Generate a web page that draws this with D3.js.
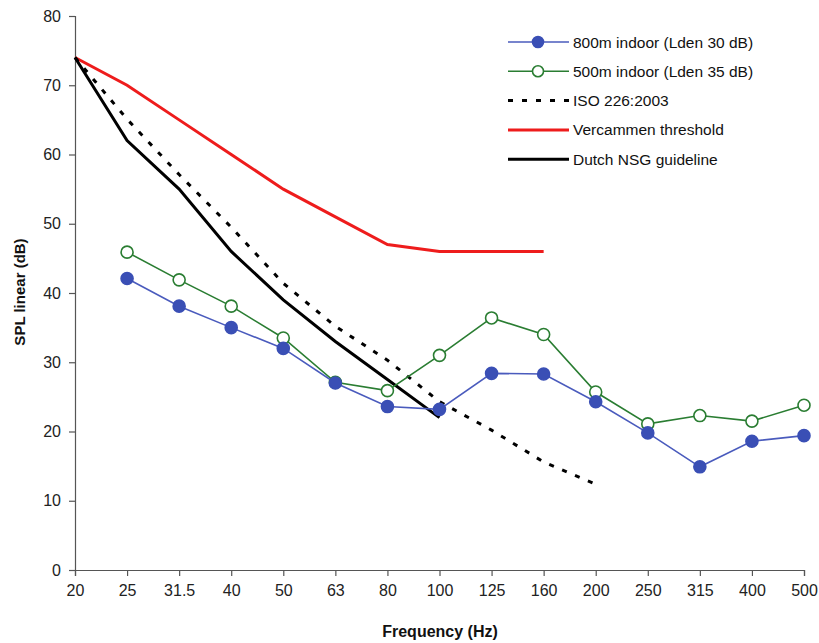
<!DOCTYPE html>
<html>
<head>
<meta charset="utf-8">
<script src="https://cdn.jsdelivr.net/npm/d3@7"></script>
<style>
  body { margin: 0; background: #fff; }
  text { font-family: Arial, "Liberation Sans", sans-serif; }
</style>
</head>
<body>
<div id="chart"></div>
<script>
// DATA
var freqs = ["20", "25", "31.5", "40", "50", "63", "80", "100", "125", "160", "200", "250", "315", "400", "500"];
var yTicks = [0, 10, 20, 30, 40, 50, 60, 70, 80];

var indoor800 = [null, 42.1, 38.1, 35.0, 32.0, 27.0, 23.6, 23.2, 28.4, 28.3, 24.3, 19.8, 14.9, 18.6, 19.4];
var indoor500 = [null, 45.9, 41.9, 38.1, 33.5, 27.1, 25.9, 31.0, 36.4, 34.0, 25.7, 21.1, 22.3, 21.5, 23.8];
var iso226 = [74, 65.1, 57.1, 49.5, 41.4, 35.2, 30.3, 24.3, 20.2, 15.6, 12.4];
var vercammen = [74, 70, 65, 60, 55, 51, 47, 46, 46, 46];
var dutchNSG = [74, 62, 55, 46, 39, 33, 27.5, 22];

var legendNames = ["800m indoor (Lden 30 dB)", "500m indoor (Lden 35 dB)", "ISO 226:2003", "Vercammen threshold", "Dutch NSG guideline"];

var width = 819, height = 643;
var margin = {top: 16, right: 15, bottom: 73, left: 75};

var svg = d3.select('#chart').append('svg')
    .attr('width', width)
    .attr('height', height);

var x = d3.scalePoint()
    .domain(freqs)
    .range([margin.left, width - margin.right]);

var y = d3.scaleLinear()
    .domain([0, 80])
    .range([height - margin.bottom, margin.top]);

// axes
var xAxis = svg.append('g')
    .attr('transform', 'translate(0,' + (height - margin.bottom) + ')')
    .call(d3.axisBottom(x).tickSize(6).tickPadding(9));
var yAxis = svg.append('g')
    .attr('transform', 'translate(' + margin.left + ',0)')
    .call(d3.axisLeft(y).tickValues(yTicks).tickSize(6).tickPadding(8));

[xAxis, yAxis].forEach(function(a) {
  a.select('.domain').attr('stroke', '#555').attr('stroke-width', 1.2);
  a.selectAll('.tick line').attr('stroke', '#555').attr('stroke-width', 1.2);
  a.selectAll('.tick text')
    .attr('font-size', 16)
    .attr('fill', '#222')
    .style('font-family', 'Arial, "Liberation Sans", sans-serif');
});

// axis titles
svg.append('text')
    .attr('x', 440)
    .attr('y', 637)
    .attr('text-anchor', 'middle')
    .attr('font-size', 16)
    .attr('font-weight', 'bold')
    .attr('fill', '#111')
    .text('Frequency (Hz)');

svg.append('text')
    .attr('transform', 'translate(25,292) rotate(-90)')
    .attr('text-anchor', 'middle')
    .attr('font-size', 15)
    .attr('font-weight', 'bold')
    .attr('fill', '#111')
    .text('SPL linear (dB)');

function toPoints(vals) {
  var pts = [];
  vals.forEach(function(v, i) {
    if (v != null) pts.push({f: freqs[i], v: v});
  });
  return pts;
}

var line = d3.line()
    .x(function(d) { return x(d.f); })
    .y(function(d) { return y(d.v); });

var series = [
  {data: toPoints(vercammen), color: '#ee1c1c', width: 3},
  {data: toPoints(dutchNSG), color: '#000', width: 3},
  {data: toPoints(iso226), color: '#000', width: 3, dash: '5,9'},
  {data: toPoints(indoor500), color: '#2a7d32', width: 1.6, marker: 'open'},
  {data: toPoints(indoor800), color: '#4a5bbd', width: 1.6, marker: 'filled'}
];

series.forEach(function(s) {
  svg.append('path')
      .datum(s.data)
      .attr('fill', 'none')
      .attr('stroke', s.color)
      .attr('stroke-width', s.width)
      .attr('stroke-dasharray', s.dash || null)
      .attr('d', line);

  if (s.marker) {
    svg.append('g').selectAll('circle')
      .data(s.data)
      .enter().append('circle')
        .attr('cx', function(d) { return x(d.f); })
        .attr('cy', function(d) { return y(d.v); })
        .attr('r', 6)
        .attr('fill', s.marker == 'filled' ? '#3a4fb5' : '#fff')
        .attr('stroke', s.marker == 'filled' ? '#3a4fb5' : s.color)
        .attr('stroke-width', 1.6);
  }
});

// LEGEND
var legendStyles = [
  {color: '#4a5bbd', width: 1.6, marker: 'filled'},
  {color: '#2a7d32', width: 1.6, marker: 'open'},
  {color: '#000', width: 3, dash: '5,9'},
  {color: '#ee1c1c', width: 3},
  {color: '#000', width: 3}
];

var legend = svg.append('g');
legendNames.forEach(function(name, i) {
  var st = legendStyles[i];
  var ly = 42 + i * 29.3;
  legend.append('line')
      .attr('x1', 508).attr('x2', 569)
      .attr('y1', ly).attr('y2', ly)
      .attr('stroke', st.color)
      .attr('stroke-width', st.width)
      .attr('stroke-dasharray', st.dash || null);
  if (st.marker) {
    legend.append('circle')
        .attr('cx', 538).attr('cy', ly).attr('r', 5.5)
        .attr('fill', st.marker == 'filled' ? '#3a4fb5' : '#fff')
        .attr('stroke', st.marker == 'filled' ? '#3a4fb5' : st.color)
        .attr('stroke-width', 1.6);
  }
  legend.append('text')
      .attr('x', 573)
      .attr('y', ly + 5.5)
      .attr('font-size', 15.5)
      .attr('fill', '#111')
      .text(name);
});
</script>
</body>
</html>
